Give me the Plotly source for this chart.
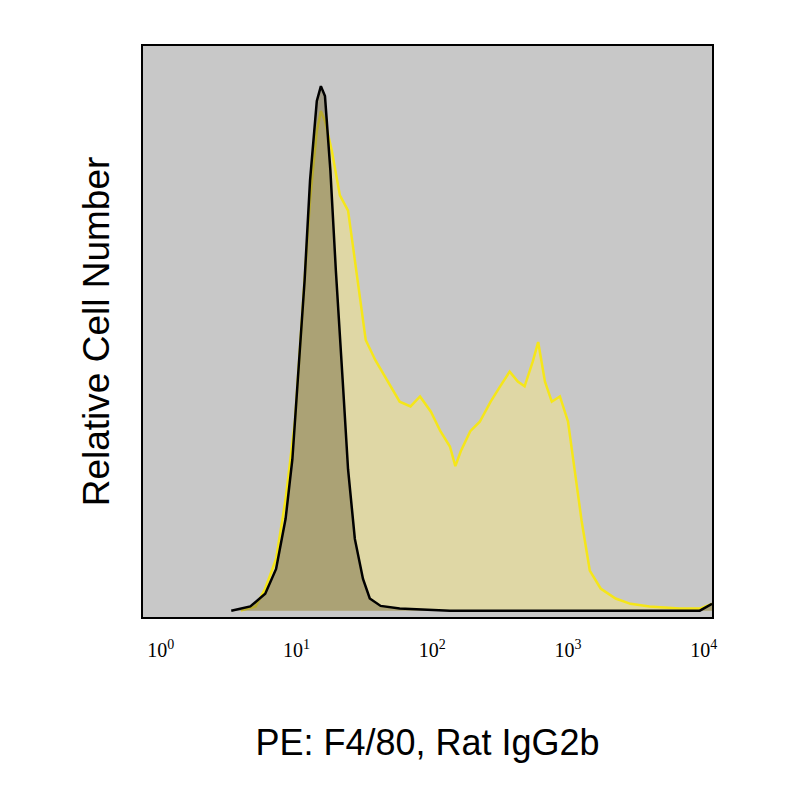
import plotly.graph_objects as go

# x in log10 units, y in relative cell count
iso_x = [0.52, 0.66, 0.77, 0.85, 0.92, 0.97, 1.01, 1.06, 1.10, 1.15, 1.18, 1.21, 1.25, 1.29, 1.34, 1.38, 1.43, 1.49, 1.54, 1.62, 1.76, 2.13, 3.97, 4.06]
iso_y = [0.0, 0.8, 3.2, 7.9, 17.4, 28.7, 43.8, 62.6, 81.5, 96.6, 99.4, 97.5, 83.4, 64.5, 43.8, 26.8, 13.6, 6.0, 2.3, 0.9, 0.4, 0.0, 0.0, 1.3]

pe_x = [0.59, 0.70, 0.77, 0.85, 0.92, 0.99, 1.05, 1.10, 1.15, 1.18, 1.21, 1.26, 1.32, 1.38, 1.41, 1.46, 1.51, 1.58, 1.69, 1.76, 1.84, 1.91, 1.99, 2.06, 2.13, 2.17, 2.21, 2.28, 2.35, 2.43, 2.50, 2.57, 2.63, 2.68, 2.74, 2.78, 2.83, 2.88, 2.94, 3.00, 3.05, 3.10, 3.16, 3.24, 3.35, 3.46, 3.60, 3.82, 3.97, 4.06]
pe_y = [0.0, 0.8, 4.2, 9.8, 21.1, 36.2, 58.9, 77.7, 90.9, 94.7, 92.8, 87.2, 78.7, 75.8, 70.2, 60.8, 51.3, 47.5, 42.8, 39.6, 38.7, 40.6, 37.7, 34.0, 31.1, 27.4, 30.2, 34.0, 35.8, 39.6, 42.5, 45.3, 43.4, 42.5, 47.2, 50.9, 43.4, 39.6, 40.6, 35.8, 26.4, 17.0, 7.6, 4.2, 2.3, 1.3, 0.8, 0.4, 0.4, 1.3]

tick_vals = [0, 1, 2, 3, 4]
tick_text = ["10<sup>0</sup>", "10<sup>1</sup>", "10<sup>2</sup>", "10<sup>3</sup>", "10<sup>4</sup>"]

fig = go.Figure()
fig.add_trace(go.Scatter(x=pe_x, y=pe_y, mode="lines", fill="tozeroy",
                         fillcolor="rgba(245,230,130,0.5)",
                         line=dict(color="#f5e619", width=2.5)))
fig.add_trace(go.Scatter(x=iso_x, y=iso_y, mode="lines", fill="tozeroy",
                         fillcolor="rgba(120,110,70,0.5)",
                         line=dict(color="black", width=2.5)))

fig.update_layout(
    width=800, height=800,
    paper_bgcolor="white", plot_bgcolor="#c8c8c8",
    showlegend=False,
    margin=dict(l=135, r=96, t=38, b=191),
    font=dict(family="Liberation Sans, Arial", color="black"),
    xaxis=dict(range=[-0.13, 4.06], tickvals=tick_vals, ticktext=tick_text,
               showgrid=False, zeroline=False, showline=True, mirror=True,
               linecolor="black", linewidth=2, ticks="outside", ticklen=14, tickcolor="rgba(0,0,0,0)",
               tickfont=dict(size=20, family="Liberation Sans Narrow"),
               title=dict(text="PE: F4/80, Rat IgG2b", font=dict(size=36), standoff=70)),
    yaxis=dict(range=[-1.2, 107], showticklabels=False, showgrid=False, zeroline=False,
               showline=True, mirror=True, linecolor="black", linewidth=2, ticks="",
               title=dict(text="Relative Cell Number", font=dict(size=37), standoff=20)),
)

fig.write_html("out.html")
